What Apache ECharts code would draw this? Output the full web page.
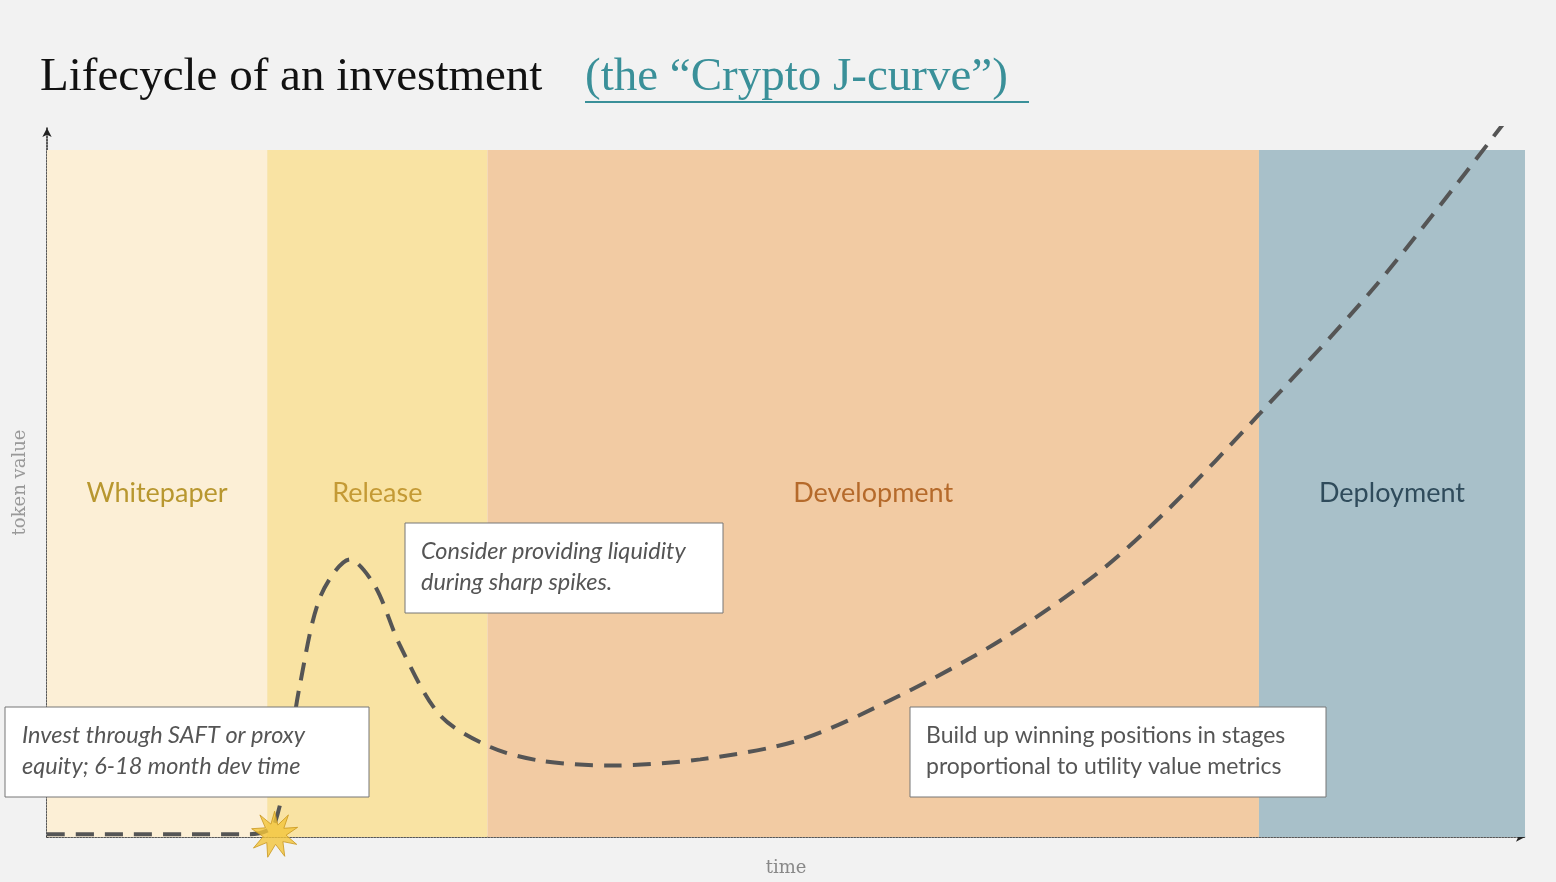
<!DOCTYPE html>
<html><head><meta charset="utf-8">
<script src="https://cdn.jsdelivr.net/npm/echarts@6/dist/echarts.min.js"></script>
<style>html,body{margin:0;padding:0;background:#f2f2f2}#c{width:1556px;height:882px}</style>
</head><body><div id="c"></div>
<script>
const phases = ['Whitepaper','Release','Development','Deployment'];
const phaseBounds = [[0,14.9],[14.9,29.8],[29.8,82],[82,100]];
const phaseColors = ['#fcefd6','#f9e3a3','#f2cba3','#a8c0c9'];
const phaseLabelColors = ['#b8972f','#c49a35','#b56a2b','#2f4b5b'];
const curveX = [0,13.7,15.4,17.1,18.5,20.5,22.2,23.9,26.6,30,33.4,38.1,44.2,50.9,57.7,64.5,71.2,76,82,90,98.6];
const curveY = [0.4,0.4,1.9,22,35,40.4,36.5,27.8,17.7,13.1,11.1,10.4,11.3,14.1,20.6,28.6,38.6,48,61.5,80.5,104];
const launch = [15.4,0.4];

const chart = echarts.init(document.getElementById('c'));
const data = curveX.map((x,i)=>[x,curveY[i]]);
data[data.length-1] = {value:data[data.length-1], symbol:'arrow', symbolSize:[18,26], symbolRotate:-42.5, itemStyle:{color:'#555'}};
const star = 'path://M50,0 L57,30 L80,8 L70,37 L100,35 L75,52 L98,72 L68,66 L72,98 L52,72 L35,100 L33,68 L4,80 L25,55 L0,38 L30,36 L18,8 L42,28 Z';
chart.setOption({
  backgroundColor:'#f2f2f2',
  animation:false,
  grid:{left:47,right:31,top:128,bottom:39},
  xAxis:{type:'value',min:0,max:100,splitLine:{show:false},axisTick:{show:false},axisLabel:{show:false},
    axisLine:{lineStyle:{color:'#222',type:'dotted',width:1.5},symbol:['none','arrow'],symbolSize:[7,9]},
    name:'time',nameLocation:'middle',nameGap:22,nameTextStyle:{fontFamily:'DejaVu Serif',fontSize:18,color:'#888'}},
  yAxis:{type:'value',min:0,max:103.2,splitLine:{show:false},axisTick:{show:false},axisLabel:{show:false},
    axisLine:{lineStyle:{color:'#222',type:'dotted',width:1.5},symbol:['none','arrow'],symbolSize:[7,9]},
    name:'token value',nameLocation:'middle',nameGap:18,nameTextStyle:{fontFamily:'DejaVu Serif',fontSize:18,color:'#999'}},
  series:[
    {type:'line',data:[],markArea:{silent:true,data:phases.map((p,i)=>[
      {xAxis:phaseBounds[i][0],yAxis:0,itemStyle:{color:phaseColors[i]},
       label:{show:true,position:'inside',formatter:p,color:phaseLabelColors[i],fontFamily:'Lato',fontSize:27}},
      {xAxis:phaseBounds[i][1],yAxis:100}])}},
    {type:'line',smooth:0.3,data:data,symbol:'none',showSymbol:true,z:5,
      lineStyle:{color:'#555',width:4,type:[18,11]}},
    {type:'scatter',data:[launch],symbol:star,symbolSize:46,z:6,itemStyle:{color:'#f2c43a',borderColor:'#c9971e',borderWidth:1}}
  ],
  graphic:[
    {type:'text',left:40,top:54,style:{text:'Lifecycle of an investment',fontFamily:'Liberation Serif',fontSize:47,fill:'#111'}},
    {type:'text',left:585,top:54,style:{text:'(the \u201cCrypto J-curve\u201d)',fontFamily:'Liberation Serif',fontSize:47,fill:'#3a9099'}},
    {type:'rect',shape:{x:585,y:101,width:444,height:2},style:{fill:'#3a9099'}},
    {type:'rect',shape:{x:5,y:707,width:364,height:90},style:{fill:'#fff',stroke:'#777',lineWidth:1},z:10},
    {type:'text',x:22,y:720,z:11,style:{text:'Invest through SAFT or proxy\nequity; 6-18 month dev time',fontFamily:'Lato',fontStyle:'italic',fontSize:23.5,lineHeight:31,fill:'#555'}},
    {type:'rect',shape:{x:405,y:523,width:318,height:90},style:{fill:'#fff',stroke:'#777',lineWidth:1},z:10},
    {type:'text',x:421,y:536,z:11,style:{text:'Consider providing liquidity\nduring sharp spikes.',fontFamily:'Lato',fontStyle:'italic',fontSize:23.5,lineHeight:31,fill:'#555'}},
    {type:'rect',shape:{x:910,y:707,width:416,height:90},style:{fill:'#fff',stroke:'#777',lineWidth:1},z:10},
    {type:'text',x:926,y:720,z:11,style:{text:'Build up winning positions in stages\nproportional to utility value metrics',fontFamily:'Lato',fontSize:23,lineHeight:31,fill:'#555'}}
  ]
});
</script></body></html>
